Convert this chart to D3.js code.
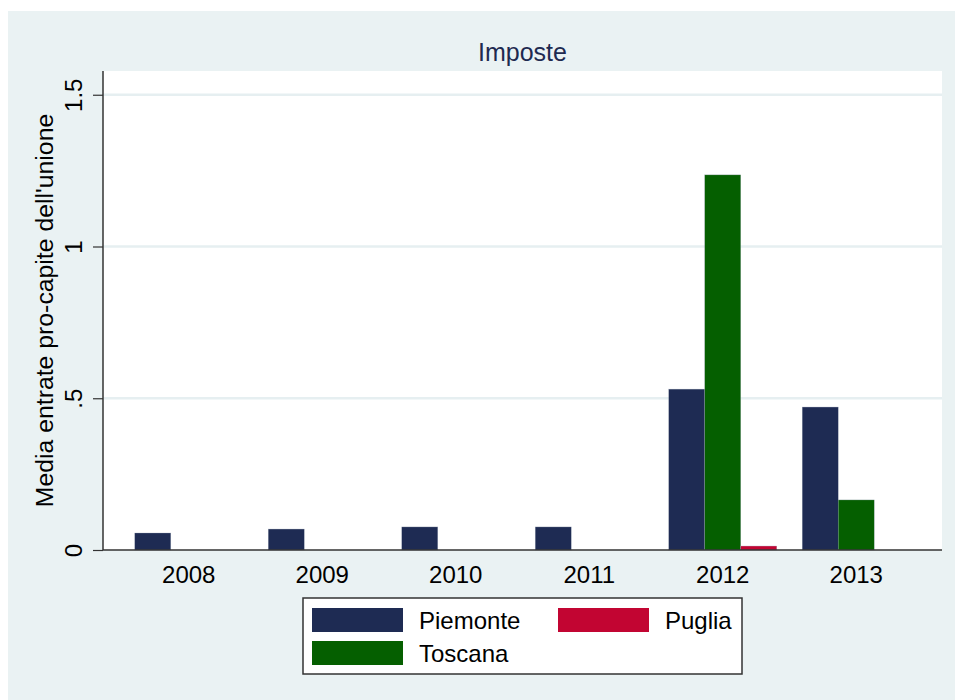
<!DOCTYPE html>
<html>
<head>
<meta charset="utf-8">
<script src="https://cdn.jsdelivr.net/npm/d3@7"></script>
<style>
  body { margin: 0; background: #fff; }
  text { font-family: "Liberation Sans", Arial, sans-serif; }
</style>
</head>
<body>
<svg id="chart" width="955" height="700"></svg>
<script>
var years = ["2008", "2009", "2010", "2011", "2012", "2013"];
var regions = ["Piemonte", "Toscana", "Puglia"];
var piemonte = [0.056, 0.069, 0.076, 0.076, 0.530, 0.471];
var toscana = [0, 0, 0, 0, 1.236, 0.165];
var puglia = [0, 0, 0, 0, 0.013, 0];
var yTicks = [0, 0.5, 1, 1.5];
var yTickLabels = ["0", ".5", "1", "1.5"];

var colors = { Piemonte: "#1e2b53", Toscana: "#055f00", Puglia: "#c20532" };
var values = { Piemonte: piemonte, Toscana: toscana, Puglia: puglia };

var svg = d3.select("#chart"),
  width = +svg.attr("width"),
  height = +svg.attr("height"),
  plotLeft = 103,
  plotRight = 942,
  plotTop = 71,
  plotBottom = 550;

// outer panel
svg.append("rect")
  .attr("x", 8).attr("y", 11)
  .attr("width", width - 8).attr("height", height - 11)
  .attr("fill", "#eaf2f3");

// plot region
svg.append("rect")
  .attr("x", plotLeft).attr("y", plotTop)
  .attr("width", plotRight - plotLeft).attr("height", plotBottom - plotTop)
  .attr("fill", "#fff");

var y = d3.scaleLinear().domain([0, 1]).range([plotBottom, plotBottom - 303.5]);

var x0 = d3.scaleBand().domain(years).range([plotLeft, plotRight])
  .paddingInner(0.191).paddingOuter(0.238);

var x1 = d3.scaleBand().domain(regions).range([0, x0.bandwidth()]);

// gridlines
svg.append("g").selectAll("line").data(yTicks.filter(function(d) { return d > 0; }))
  .enter().append("line")
  .attr("x1", plotLeft).attr("x2", plotRight)
  .attr("y1", function(d) { return y(d); })
  .attr("y2", function(d) { return y(d); })
  .attr("stroke", "#e6eff1")
  .attr("stroke-width", 2.5);

// bars
var groups = svg.append("g").selectAll("g").data(years).enter().append("g")
  .attr("transform", function(d) { return "translate(" + x0(d) + ",0)"; });

groups.selectAll("rect")
  .data(function(d, i) {
    return regions.map(function(r) { return { region: r, value: values[r][i] }; });
  })
  .enter().append("rect")
  .filter(function(d) { return d.value > 0; })
  .attr("x", function(d) { return x1(d.region); })
  .attr("width", x1.bandwidth())
  .attr("y", function(d) { return y(d.value); })
  .attr("height", function(d) { return y(0) - y(d.value); })
  .attr("fill", function(d) { return colors[d.region]; })
  .attr("stroke", "#9aa3b5")
  .attr("stroke-width", 0.5)
  .attr("stroke-opacity", 0.6);

// y axis
var yAxis = d3.axisLeft(y).tickValues(yTicks).tickSize(10)
  .tickFormat(function(d, i) { return yTickLabels[i]; });

var yg = svg.append("g").attr("transform", "translate(" + plotLeft + ",0)").call(yAxis);
yg.select(".domain").attr("d", "M0," + plotTop + "V" + plotBottom).attr("stroke", "#333").attr("stroke-width", 1.5);
yg.selectAll(".tick line").attr("stroke", "#333").attr("stroke-width", 1.2);
yg.selectAll(".tick text")
  .attr("x", null).attr("dy", null)
  .attr("transform", "translate(-21,0) rotate(-90)")
  .attr("text-anchor", "middle")
  .attr("font-size", 24)
  .attr("fill", "#000");

// x axis
var xAxis = d3.axisBottom(x0).tickSize(0).tickPadding(0);
var xg = svg.append("g").attr("transform", "translate(0," + plotBottom + ")").call(xAxis);
xg.select(".domain").attr("d", "M" + plotLeft + ",0H" + plotRight).attr("stroke", "#333").attr("stroke-width", 1.5);
xg.selectAll(".tick text")
  .attr("y", 33).attr("dy", null)
  .attr("font-size", 24)
  .attr("fill", "#000");

// title
svg.append("text")
  .attr("x", (plotLeft + plotRight) / 2).attr("y", 61)
  .attr("text-anchor", "middle")
  .attr("font-size", 25)
  .attr("fill", "#1e2a50")
  .text("Imposte");

// y title
svg.append("text")
  .attr("transform", "translate(53," + (plotTop + plotBottom) / 2 + ") rotate(-90)")
  .attr("text-anchor", "middle")
  .attr("font-size", 24.8)
  .attr("fill", "#000")
  .text("Media entrate pro-capite dell'unione");

// legend
var legendItems = [
  { name: "Piemonte", col: 0, row: 0 },
  { name: "Puglia", col: 1, row: 0 },
  { name: "Toscana", col: 0, row: 1 }
];

var legend = svg.append("g");
legend.append("rect")
  .attr("x", 303).attr("y", 598)
  .attr("width", 439).attr("height", 76)
  .attr("fill", "#fff")
  .attr("stroke", "#333")
  .attr("stroke-width", 1.5);

var item = legend.selectAll("g.item").data(legendItems).enter().append("g")
  .attr("class", "item")
  .attr("transform", function(d) {
    return "translate(" + (312 + d.col * 246) + "," + (608 + d.row * 33) + ")";
  });

item.append("rect")
  .attr("width", 91).attr("height", 24)
  .attr("fill", function(d) { return colors[d.name]; });

item.append("text")
  .attr("x", 107).attr("y", 21)
  .attr("font-size", 24)
  .attr("fill", "#000")
  .text(function(d) { return d.name; });
</script>
</body>
</html>
